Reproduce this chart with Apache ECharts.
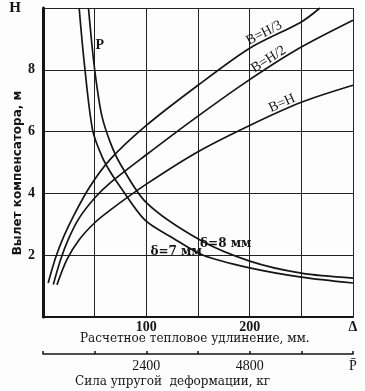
<!DOCTYPE html>
<html><head><meta charset="utf-8">
<script src="https://cdn.jsdelivr.net/npm/echarts@6/dist/echarts.min.js"></script>
<style>html,body{margin:0;padding:0;background:#fff}#c{width:365px;height:391px}</style>
</head><body><div id="c"></div>
<script>
// Thermal elongation axis (mm) ticks and labels
const xTickValues = [0, 50, 100, 150, 200, 250, 300];
const xTickLabels = {100: '100', 200: '200', 300: 'Δ'};
// Force axis (kg)
const forceLabels = {2400: '2400', 4800: '4800', 7200: 'P\u0304'};
// Height axis
const yLabels = {2: '2', 4: '4', 6: '6', 8: '8', 10: '{h|H}'};

// B = H/3
const bH3_x = [5, 12, 20, 30, 45, 65, 100, 150, 200, 250, 268];
const bH3_y = [1.1, 1.9, 2.6, 3.3, 4.2, 5.1, 6.2, 7.5, 8.7, 9.55, 10];
// B = H/2
const bH2_x = [10, 17, 25, 35, 50, 65, 100, 145, 195, 245, 300];
const bH2_y = [1.05, 1.85, 2.55, 3.2, 3.85, 4.34, 5.25, 6.38, 7.57, 8.64, 9.6];
// B = H
const bH_x = [13.5, 23, 35, 50, 65, 100, 150, 200, 250, 300];
const bH_y = [1.04, 1.85, 2.5, 3.05, 3.46, 4.3, 5.35, 6.2, 6.95, 7.5];
// P, delta = 8 mm
const d8_x = [44, 48, 52, 57, 65, 74, 100, 152, 200, 250, 300];
const d8_y = [10, 8.6, 7.5, 6.5, 5.66, 5.0, 3.7, 2.49, 1.81, 1.42, 1.26];
// P, delta = 7 mm
const d7_x = [35, 40, 48, 57, 65, 74, 98.5, 126, 155, 200, 250, 300];
const d7_y = [10, 8.2, 6.05, 5.2, 4.7, 4.25, 3.14, 2.55, 2.0, 1.59, 1.29, 1.1];

const pair = (xs, ys) => xs.map((x, i) => [x, ys[i]]);
const INK = '#151515';
const serif = '"Liberation Serif","DejaVu Serif",serif';
const wideSerif = '"DejaVu Serif","Liberation Serif",serif';

const chart = echarts.init(document.getElementById('c'));
const lineSeries = (name, xs, ys) => ({
  name, type: 'line', xAxisIndex: 0, yAxisIndex: 0,
  data: pair(xs, ys), showSymbol: false, symbol: 'none',
  smooth: 0.3,
  lineStyle: {color: INK, width: 1.7}, silent: true, animation: false
});

chart.setOption({
  animation: false,
  backgroundColor: '#fdfdfd',
  grid: {left: 43, right: 12, top: 8, bottom: 74, containLabel: false, outerBoundsMode: 'none'},
  xAxis: [{
    type: 'value', min: 0, max: 300, interval: 50, position: 'bottom',
    axisLine: {show: true, onZero: false, lineStyle: {color: INK, width: 2}},
    axisTick: {show: false},
    axisLabel: {formatter: v => xTickLabels[v] || '', color: INK, fontFamily: serif,
      fontSize: 14, fontWeight: 'bold', margin: 3},
    splitLine: {show: true, lineStyle: {color: '#222', width: 1}}
  }, {
    type: 'value', min: 0, max: 7200, interval: 1200, position: 'bottom', offset: 37,
    axisLine: {show: true, onZero: false, lineStyle: {color: INK, width: 1.5}},
    axisTick: {show: true, inside: true, length: 3, lineStyle: {color: INK, width: 1.5}},
    axisLabel: {formatter: v => forceLabels[v] || '', color: INK, fontFamily: serif,
      fontSize: 14, margin: 5},
    splitLine: {show: false}
  }],
  yAxis: {
    type: 'value', min: 0, max: 10, interval: 2,
    axisLine: {show: true, onZero: false, lineStyle: {color: INK, width: 3}},
    axisTick: {show: false},
    axisLabel: {formatter: v => yLabels[v] || '', color: INK, fontFamily: serif,
      fontSize: 14, fontWeight: 'bold', margin: 8,
      rich: {h: {fontSize: 15, fontWeight: 'bold', fontFamily: serif, color: INK, padding: [0, 14, 0, 0]}}},
    splitLine: {show: true, lineStyle: {color: '#222', width: 1}}
  },
  series: [
    lineSeries('B=H/3', bH3_x, bH3_y),
    lineSeries('B=H/2', bH2_x, bH2_y),
    lineSeries('B=H', bH_x, bH_y),
    lineSeries('δ=8 мм', d8_x, d8_y),
    lineSeries('δ=7 мм', d7_x, d7_y)
  ]
});

function px(p) { return chart.convertToPixel({gridIndex: 0}, p); }
function curveLabel(text, xs, ys, xAt, size) {
  let i = 0; while (i < xs.length - 2 && xs[i + 1] < xAt) i++;
  const t = (xAt - xs[i]) / (xs[i + 1] - xs[i]);
  const yAt = ys[i] + t * (ys[i + 1] - ys[i]);
  const a = px([xs[i], ys[i]]), b = px([xs[i + 1], ys[i + 1]]);
  const ang = Math.atan2(-(b[1] - a[1]), b[0] - a[0]);
  const p = px([xAt, yAt]);
  return {type: 'text', x: p[0], y: p[1], rotation: ang,
    style: {text, fill: INK, font: (size || 13) + 'px ' + serif, align: 'center', verticalAlign: 'bottom'},
    z: 10, silent: true};
}
const g = [];
g.push(curveLabel('B=H/3', bH3_x, bH3_y, 217, 14));
g.push(curveLabel('B=H/2', bH2_x, bH2_y, 222, 14));
g.push(curveLabel('B=H', bH_x, bH_y, 234, 14));
const pP = px([55, 8.8]);
g.push({type: 'text', x: pP[0], y: pP[1], style: {text: 'P', fill: INK, font: 'bold 14px ' + serif, align: 'center', verticalAlign: 'middle'}, z: 10});
const p8 = px([152, 2.55]);
g.push({type: 'text', x: p8[0], y: p8[1], style: {text: 'δ=8 мм', fill: INK, font: 'bold 12px ' + wideSerif, align: 'left', verticalAlign: 'top'}, z: 10});
const p7 = px([104, 2.3]);
g.push({type: 'text', x: p7[0], y: p7[1], style: {text: 'δ=7 мм', fill: INK, font: 'bold 12px ' + wideSerif, align: 'left', verticalAlign: 'top'}, z: 10});
g.push({type: 'text', left: 80, top: 333, style: {text: 'Расчетное тепловое удлинение, мм.', fill: INK, font: '12px ' + wideSerif}});
g.push({type: 'text', left: 75, top: 376, style: {text: 'Сила упругой  деформации, кг', fill: INK, font: '12px ' + wideSerif}});
g.push({type: 'text', x: 18, y: 173, rotation: Math.PI / 2,
  style: {text: 'Вылет компенсатора, м', fill: INK, font: 'bold 12px "DejaVu Sans",sans-serif', align: 'center', verticalAlign: 'middle'}});
chart.setOption({graphic: g});
</script></body></html>
